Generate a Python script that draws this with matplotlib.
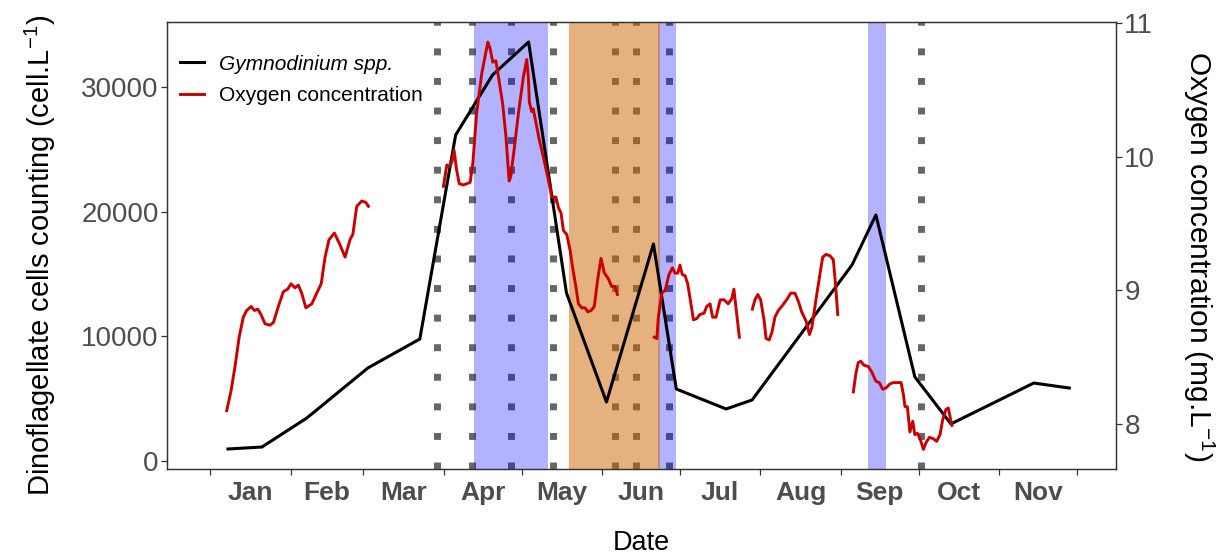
import matplotlib
matplotlib.use("Agg")
import matplotlib.pyplot as plt
from matplotlib.ticker import FixedLocator, FixedFormatter, NullFormatter
import numpy as np

plt.rcParams["font.family"] = ["Liberation Sans", "DejaVu Sans"]
plt.rcParams["mathtext.fontset"] = "custom"
plt.rcParams["mathtext.rm"] = "Liberation Sans"
plt.rcParams["mathtext.it"] = "Liberation Sans:italic"

# x values are day of year (0 = 1 January)
MONTH_STARTS = [0, 31, 59, 90, 120, 151, 181, 212, 243, 273, 304, 334]
MONTH_LABELS = ["Jan", "Feb", "Mar", "Apr", "May", "Jun", "Jul", "Aug", "Sep", "Oct", "Nov"]

# Gymnodinium spp. counts (cell/L)
gym_day = [6.9, 20.0, 37.3, 60.8, 80.8, 94.6, 108.8, 122.7, 137.3, 152.7,
           170.8, 179.6, 198.8, 208.8, 247.3, 256.5, 271.5, 285.4, 317.3, 331.0]
gym_cells = [960, 1120, 3450, 7460, 9780, 26140, 30950, 33600, 13470, 4730,
             17400, 5770, 4170, 4890, 15720, 19730, 6740, 2970, 6250, 5850]

# Oxygen concentration (mg/L), five separate sensor records
oxy1_day = [6.4, 8.1, 9.6, 11.2, 12.8, 14.1, 15.8, 17.1, 18.4, 19.6, 21.2, 23.1,
            24.4, 26.3, 28.2, 29.9, 31.2, 32.7, 34.0, 35.3, 36.9, 39.2, 41.1,
            42.8, 44.3, 45.8, 47.9, 50.1, 52.0, 53.9, 55.0, 56.5, 58.4, 60.0, 61.0]
oxy1_val = [8.10, 8.25, 8.43, 8.65, 8.80, 8.85, 8.88, 8.85, 8.86, 8.82, 8.75, 8.74,
            8.76, 8.88, 8.99, 9.01, 9.05, 9.02, 9.04, 8.98, 8.87, 8.90, 8.98,
            9.05, 9.25, 9.38, 9.43, 9.34, 9.25, 9.38, 9.42, 9.63, 9.67, 9.66, 9.63]

oxy2_day = [89.9, 91.2, 92.2, 93.1, 94.0, 95.0, 96.0, 97.6, 98.9, 100.2, 101.2,
            102.7, 104.7, 105.9, 107.0, 107.9, 108.9, 110.1, 111.1, 112.7, 114.0,
            115.2, 115.8, 117.1, 118.8, 120.7, 122.0, 122.6, 123.0, 123.9, 124.5,
            125.6, 126.8, 128.4, 130.3, 131.6, 133.2, 134.2, 135.2, 136.1, 137.4,
            138.7, 139.6, 140.9, 141.9, 143.2, 144.5, 145.5, 146.8, 148.0, 149.3,
            150.6, 151.9, 153.4, 154.7, 156.0, 156.9]
oxy2_val = [9.78, 9.94, 9.93, 9.96, 10.05, 9.90, 9.80, 9.79, 9.80, 9.81, 9.95,
            10.33, 10.63, 10.75, 10.86, 10.81, 10.71, 10.72, 10.60, 10.40, 10.15,
            9.82, 9.85, 10.05, 10.33, 10.60, 10.73, 10.60, 10.41, 10.34, 10.36,
            10.25, 10.13, 10.00, 9.83, 9.70, 9.70, 9.62, 9.58, 9.45, 9.42,
            9.30, 9.18, 9.03, 8.90, 8.87, 8.87, 8.84, 8.85, 8.88, 9.08,
            9.24, 9.13, 9.09, 9.03, 9.03, 8.97]

oxy3_day = [171.1, 172.1, 172.7, 174.0, 175.3, 176.8, 178.1, 179.1, 180.2, 181.0,
            181.9, 183.0, 184.0, 185.0, 186.2, 187.5, 188.7, 190.3, 191.3, 192.6,
            193.6, 194.9, 196.5, 198.0, 199.6, 201.0, 201.8, 202.6, 203.9]
oxy3_val = [8.65, 8.64, 8.80, 8.98, 9.00, 9.12, 9.17, 9.13, 9.13, 9.19,
            9.12, 9.11, 9.05, 8.93, 8.78, 8.79, 8.82, 8.83, 8.88, 8.90,
            8.80, 8.80, 8.93, 8.93, 8.90, 8.94, 9.01, 8.87, 8.65]

oxy4_day = [208.9, 209.9, 211.0, 212.1, 213.4, 214.2, 215.4, 216.5, 217.6, 218.9,
            220.6, 222.1, 223.7, 225.3, 226.6, 227.9, 229.6, 230.9, 231.8, 233.4,
            235.0, 236.0, 237.3, 238.8, 240.1, 241.0, 241.8]
oxy4_val = [8.86, 8.93, 8.97, 8.93, 8.78, 8.64, 8.63, 8.69, 8.80, 8.85,
            8.89, 8.93, 8.98, 8.98, 8.92, 8.84, 8.77, 8.67, 8.72, 8.93,
            9.13, 9.25, 9.27, 9.26, 9.23, 9.03, 8.82]

oxy5_day = [247.8, 248.8, 249.7, 250.7, 251.9, 253.6, 254.9, 256.5, 257.8, 259.1,
            260.4, 261.9, 263.2, 265.1, 266.2, 267.1, 267.7, 268.6, 269.6, 270.7,
            271.5, 272.5, 273.5, 274.8, 275.8, 277.1, 278.6, 279.9, 281.2, 282.2,
            283.5, 284.4, 285.3, 285.8]
oxy5_val = [8.24, 8.38, 8.46, 8.47, 8.44, 8.43, 8.39, 8.32, 8.31, 8.26,
            8.27, 8.30, 8.31, 8.31, 8.31, 8.22, 8.13, 8.13, 7.94, 8.02,
            7.92, 7.93, 7.89, 7.81, 7.86, 7.90, 7.89, 7.87, 7.92, 8.03,
            8.11, 8.12, 8.03, 7.99]

# highlighted periods and sampling events
blue_periods = [(101.7, 130.2), (172.6, 179.5), (253.5, 260.4)]
orange_periods = [(138.3, 173.3)]
event_days = [87.4, 100.9, 115.9, 132.1, 156.0, 164.1, 176.8, 273.9]

TICK_GREY = "#4d4d4d"
FRAME = "#333333"

fig = plt.figure(figsize=(12.26, 5.55), dpi=100)
ax = fig.add_axes([0.1362, 0.155, 0.7741, 0.8054])
ax2 = ax.twinx()

for d in event_days:
    ax.axvline(d, color="#666666", lw=5, linestyle=(0, (1, 3.26)),
               dash_capstyle="butt", zorder=1)
for a, b in blue_periods:
    ax.axvspan(a, b, color="#0000ff", alpha=0.3, lw=0, zorder=2)
for a, b in orange_periods:
    ax.axvspan(a, b, color="#cd6600", alpha=0.5, lw=0, zorder=3)

h1, = ax.plot(gym_day, gym_cells, color="black", lw=2.2, zorder=4,
              label="Gymnodinium spp.")
oxy_segments = [(oxy1_day, oxy1_val), (oxy2_day, oxy2_val), (oxy3_day, oxy3_val),
                (oxy4_day, oxy4_val), (oxy5_day, oxy5_val)]
oxy_lines = []
for dd, vv in oxy_segments:
    ln, = ax2.plot(dd, vv, color="#cd0000", lw=2.1)
    oxy_lines.append(ln)
oxy_lines[0].set_label("Oxygen concentration")

ax.set_xlim(-16.6, 349.0)
ax.set_ylim(-642, 35205)
ax2.set_ylim(7.663, 11.011)

ax.set_yticks([0, 10000, 20000, 30000])
ax.set_yticklabels(["0", "10000", "20000", "30000"])
ax2.set_yticks([8, 9, 10, 11])

ax.xaxis.set_major_locator(FixedLocator(MONTH_STARTS))
ax.xaxis.set_major_formatter(NullFormatter())
mids = [(MONTH_STARTS[i] + MONTH_STARTS[i + 1]) / 2 for i in range(len(MONTH_LABELS))]
ax.xaxis.set_minor_locator(FixedLocator(mids))
ax.xaxis.set_minor_formatter(FixedFormatter(MONTH_LABELS))
ax.tick_params(axis="x", which="minor", length=0, pad=9, labelsize=19,
               labelcolor=TICK_GREY)
for t in ax.get_xticklabels(minor=True):
    t.set_fontweight("bold")

ax.tick_params(axis="x", which="major", length=4, width=0.9, color=FRAME)
ax.tick_params(axis="y", length=4, width=0.9, color=FRAME, labelsize=20,
               labelcolor=TICK_GREY, pad=2)
ax2.tick_params(axis="y", length=4, width=0.9, color=FRAME, labelsize=20,
                labelcolor=TICK_GREY, pad=2)

for axis in (ax, ax2):
    for s in axis.spines.values():
        s.set_color(FRAME)
        s.set_linewidth(0.9)

ax.set_xlabel("Date", fontsize=19.5, labelpad=18)
ax.set_ylabel("Dinoflagellate cells counting (cell.L$^{-1}$)", fontsize=21,
              labelpad=17)
ax.yaxis.label.set_y(0.478)
ax2.set_ylabel("Oxygen concentration (mg.L$^{-1}$)", fontsize=21.5, rotation=270,
               labelpad=44)
ax2.yaxis.label.set_y(0.476)

leg = ax2.legend(handles=[h1, oxy_lines[0]], loc="upper left",
                 bbox_to_anchor=(0.014, 0.927), frameon=False, fontsize=15,
                 handlelength=1.15, handletextpad=0.7, labelspacing=0.6,
                 borderpad=0, borderaxespad=0)
leg.get_texts()[0].set_fontstyle("italic")

fig.savefig("out.png", dpi=100)
